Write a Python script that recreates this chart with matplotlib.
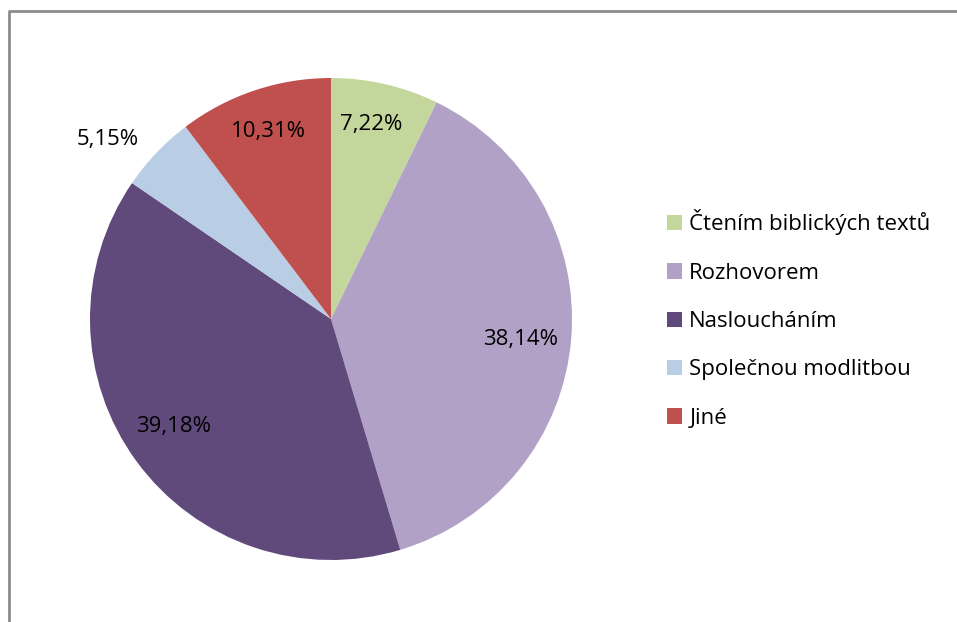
import numpy as np
import matplotlib.pyplot as plt
from matplotlib.patches import Patch

categories = ['Čtením biblických textů', 'Rozhovorem', 'Nasloucháním', 'Společnou modlitbou', 'Jiné']
shares = [7.22, 38.14, 39.18, 5.15, 10.31]
labels = ['7,22%', '38,14%', '39,18%', '5,15%', '10,31%']
colors = ['#C3D69B', '#B2A1C7', '#604A7B', '#B9CDE5', '#C0504D']
label_dist = [0.83, 0.79, 0.79, 1.2, 0.82]
label_nudge = [(-5, 0), (0, -5), (-4, 5), (-14, -20), (0, 0)]

plt.rcParams['font.family'] = ['Open Sans', 'DejaVu Sans']

fig = plt.figure(figsize=(9.57, 6.22), dpi=100)
ax = fig.add_axes([0, 0, 1, 1])

cx, cy, r = 331, 303, 241
wedges, _ = ax.pie(shares, colors=colors, startangle=90, counterclock=False,
                   center=(cx, cy), radius=r, frame=True,
                   wedgeprops=dict(linewidth=0))

# percentage labels at slice mid-angles
start = 90.0
for v, lab, d, (nx, ny) in zip(shares, labels, label_dist, label_nudge):
    mid = np.deg2rad(start - v * 3.6 / 2)
    start -= v * 3.6
    ax.text(cx + d * r * np.cos(mid) + nx, cy + d * r * np.sin(mid) + ny, lab,
            ha='center', va='center', fontsize=16, color='black')

ax.set_xlim(0, 957)
ax.set_ylim(0, 622)
ax.set_aspect('equal')
ax.axis('off')

# chart area border (top and left edges visible)
ax.plot([9, 9, 957], [0, 611, 611], color='#8c8c8c', lw=2, solid_capstyle='butt')

handles = [Patch(facecolor=c, edgecolor='none') for c in colors]
fig.legend(handles, categories, loc='center left', bbox_to_anchor=(0.697, 0.487),
           frameon=False, fontsize=16, handlelength=0.68, handleheight=0.68,
           handletextpad=0.32, labelspacing=1.23, borderpad=0, borderaxespad=0)

fig.savefig('out.png', dpi=100)
